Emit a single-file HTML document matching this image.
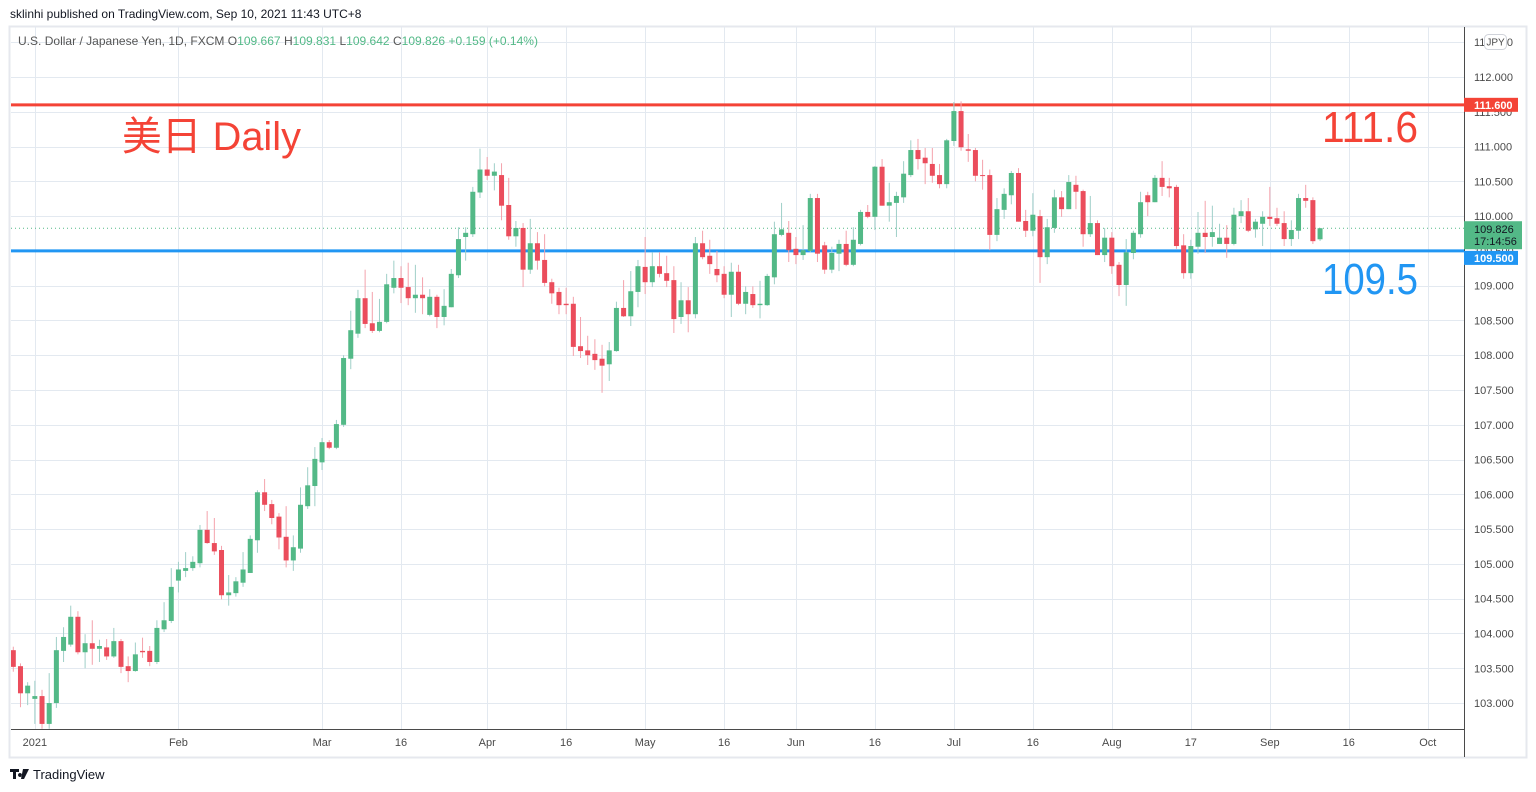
<!DOCTYPE html>
<html><head><meta charset="utf-8">
<style>
html,body{margin:0;padding:0;background:#fff;}
svg{display:block;font-family:"Liberation Sans","Noto Sans CJK SC",sans-serif;}
</style></head>
<body>
<svg id="chart" width="1536" height="792" viewBox="0 0 1536 792" xmlns="http://www.w3.org/2000/svg">
  <text x="10" y="18" font-size="12" fill="#131722">sklinhi published on TradingView.com, Sep 10, 2021 11:43 UTC+8</text>
  <rect x="9.5" y="26.5" width="1517" height="731" fill="#fff" stroke="#e6e8ee" stroke-width="2"/>
  <g id="grid"></g>
  <g id="hlines"></g>
  <g id="candles" clip-path="url(#plotclip)"></g>
  <defs><clipPath id="plotclip"><rect x="11" y="27" width="1452" height="702"/></clipPath></defs>
  <line x1="11" y1="729.5" x2="1464" y2="729.5" stroke="#4a4a4a" stroke-width="1"/>
  <line x1="1464.5" y1="27" x2="1464.5" y2="757" stroke="#4a4a4a" stroke-width="1"/>
  <g id="yaxis"></g>
  <g id="xaxis"></g>
  <g font-size="12">
    <text x="18" y="45" fill="#555" textLength="520" lengthAdjust="spacingAndGlyphs">U.S. Dollar / Japanese Yen, 1D, FXCM  <tspan fill="#555">O</tspan><tspan fill="#53b987">109.667</tspan>  <tspan fill="#555">H</tspan><tspan fill="#53b987">109.831</tspan>  <tspan fill="#555">L</tspan><tspan fill="#53b987">109.642</tspan>  <tspan fill="#555">C</tspan><tspan fill="#53b987">109.826  +0.159 (+0.14%)</tspan></text>
  </g>
  <text x="122" y="150" font-size="40" fill="#f44336" textLength="179" lengthAdjust="spacingAndGlyphs">美日 Daily</text>
  <text x="1322" y="142" font-size="44" fill="#f44336" textLength="96" lengthAdjust="spacingAndGlyphs">111.6</text>
  <text x="1322" y="294" font-size="44" fill="#2196f3" textLength="96" lengthAdjust="spacingAndGlyphs">109.5</text>
  <g>
    <path d="M10 769h9v3h-3v7h-3v-7h-3z M20 773a2 2 0 1 0 0.01 0z M23 769h6l-5 10h-3z" fill="#131722"/>
    <text x="33" y="779" font-size="13" fill="#131722">TradingView</text>
  </g>
</svg>
<script>
// ---- data ----
const opens=[103.76,103.53,103.14,103.06,103.10,102.70,103.00,103.75,103.84,104.24,
103.73,103.86,103.78,103.80,103.67,103.89,103.53,103.46,103.75,103.75,
103.59,104.06,104.18,104.76,104.90,104.94,105.01,105.49,105.30,105.20,
104.55,104.58,104.73,104.87,105.34,106.03,105.86,105.68,105.39,105.05,
105.22,105.83,106.12,106.46,106.75,106.67,107.00,107.95,108.31,108.82,
108.46,108.35,108.48,108.97,109.11,108.98,108.82,108.87,108.58,108.84,
108.55,108.69,109.15,109.70,109.74,110.34,110.67,110.58,110.59,110.16,
109.71,109.83,109.23,109.61,109.37,109.05,108.91,108.74,108.74,108.13,
108.07,108.02,107.95,107.87,108.06,108.68,108.56,108.91,109.27,109.05,
109.28,109.18,109.08,108.55,108.79,108.59,109.61,109.43,109.24,109.17,
108.87,109.20,108.74,108.88,108.72,108.72,109.12,109.73,109.76,109.53,
109.44,109.50,110.26,109.58,109.23,109.46,109.60,109.30,109.60,110.06,
109.99,110.71,110.15,110.19,110.27,110.59,110.95,110.84,110.75,110.59,
110.46,111.08,111.51,110.96,110.95,110.59,110.59,109.73,110.09,110.30,
110.62,109.93,109.79,110.00,109.41,109.83,110.27,110.10,110.45,110.36,
109.74,109.90,109.44,109.69,109.30,109.01,109.47,109.74,110.30,110.20,
110.55,110.43,110.42,109.58,109.18,109.56,109.76,109.70,109.60,109.69,
109.60,110.00,110.07,109.81,109.89,109.99,109.97,109.90,109.67,109.79,
110.26,110.23,109.667];
const highs=[103.81,103.57,103.30,103.32,103.19,103.43,103.95,104.09,104.40,104.32,
103.99,104.19,103.91,103.92,104.08,103.92,103.67,103.87,103.94,103.82,
104.19,104.45,104.94,105.03,105.17,105.11,105.56,105.76,105.66,105.26,
104.84,104.81,105.17,105.41,106.06,106.22,105.92,105.73,105.83,105.41,
106.10,106.39,106.68,106.81,106.78,107.07,108.00,108.64,108.94,109.23,
108.91,108.81,109.17,109.36,109.28,109.33,109.30,109.12,108.95,108.87,
108.95,109.24,109.84,109.84,110.42,110.97,110.85,110.76,110.76,110.55,
109.93,109.90,109.96,109.77,109.74,109.10,108.97,108.97,108.84,108.55,
108.28,108.23,108.15,108.19,108.77,109.08,109.21,109.37,109.70,109.48,
109.48,109.43,109.28,109.05,108.98,109.70,109.79,109.66,109.50,109.28,
109.33,109.30,108.99,108.99,109.07,109.17,109.92,110.19,109.93,109.70,
109.87,110.32,110.32,109.63,109.56,109.66,109.79,109.84,110.09,110.16,
110.72,110.82,110.48,110.35,110.79,111.09,111.11,110.98,110.98,110.75,
111.11,111.64,111.65,111.18,110.98,110.81,110.67,110.26,110.40,110.65,
110.69,110.09,110.33,110.09,109.96,110.38,110.36,110.59,110.58,110.38,
110.29,109.94,109.83,109.77,109.34,109.67,109.79,110.35,110.35,110.59,
110.79,110.55,110.45,109.74,109.66,110.06,110.22,110.15,109.89,109.87,
110.12,110.23,110.26,109.96,110.07,110.42,110.12,110.07,109.94,110.32,
110.45,110.27,109.831];
const lows=[103.45,102.94,102.97,102.70,102.63,102.63,102.93,103.59,103.81,103.70,
103.50,103.55,103.59,103.62,103.65,103.43,103.30,103.45,103.65,103.53,
103.56,104.02,104.15,104.59,104.81,104.90,104.95,105.29,105.13,104.49,
104.40,104.53,104.67,104.87,105.16,105.76,105.57,105.21,104.95,104.90,
105.16,105.79,105.83,106.35,106.65,106.65,106.97,107.80,108.25,108.39,
108.32,108.33,108.46,108.89,108.75,108.72,108.61,108.59,108.56,108.39,
108.43,108.69,109.11,109.36,109.70,110.26,110.52,110.37,109.94,109.66,
109.56,108.98,109.17,109.23,108.99,108.74,108.59,108.59,107.99,107.96,
107.86,107.79,107.46,107.63,108.05,108.55,108.42,108.69,108.88,108.98,
109.12,108.98,108.32,108.45,108.33,108.53,109.38,109.17,109.05,108.82,
108.55,108.72,108.59,108.68,108.53,108.71,109.02,109.71,109.34,109.31,
109.37,109.48,109.34,109.17,109.18,109.21,109.28,109.28,109.58,109.97,
109.80,110.15,109.92,109.70,110.19,110.56,110.67,110.46,110.48,110.40,
110.40,111.01,110.94,110.78,110.50,110.38,109.51,109.64,109.96,110.17,
109.92,109.70,109.71,109.04,109.31,109.76,109.99,110.10,110.10,109.56,
109.70,109.44,109.34,109.17,108.85,108.71,109.38,109.69,110.00,110.20,
110.29,110.27,109.53,109.10,109.10,109.46,109.47,109.56,109.60,109.40,
109.58,109.90,109.77,109.69,109.57,109.86,109.86,109.57,109.57,109.67,
110.12,109.60,109.642];
const closes=[103.52,103.14,103.25,103.10,102.70,103.00,103.76,103.95,104.24,103.73,
103.86,103.78,103.82,103.67,103.89,103.52,103.46,103.70,103.73,103.59,
104.08,104.19,104.67,104.92,104.94,105.03,105.49,105.30,105.18,104.55,
104.59,104.75,104.92,105.36,106.03,105.85,105.66,105.38,105.05,105.24,
105.85,106.13,106.51,106.75,106.67,107.01,107.96,108.36,108.82,108.45,
108.35,108.48,109.02,109.11,108.97,108.82,108.87,108.82,108.84,108.55,
108.71,109.17,109.67,109.76,110.35,110.67,110.58,110.64,110.15,109.71,
109.83,109.23,109.61,109.36,109.04,108.89,108.72,108.72,108.12,108.06,
108.00,107.93,107.85,108.07,108.68,108.56,108.92,109.28,109.05,109.28,
109.17,109.07,108.52,108.79,108.59,109.61,109.41,109.31,109.15,108.87,
109.20,108.74,108.91,108.72,108.74,109.14,109.74,109.81,109.51,109.44,
109.51,110.26,109.46,109.23,109.47,109.60,109.30,109.66,110.06,109.99,
110.71,110.15,110.20,110.29,110.61,110.95,110.82,110.76,110.58,110.46,
111.09,111.51,110.99,110.94,110.58,110.58,109.73,110.10,110.32,110.62,
109.92,109.79,110.02,109.41,109.84,110.27,110.10,110.49,110.35,109.74,
109.90,109.44,109.69,109.28,109.01,109.48,109.76,110.20,110.20,110.55,
110.42,110.40,109.57,109.18,109.57,109.76,109.70,109.77,109.69,109.60,
110.02,110.07,109.79,109.92,109.99,109.96,109.89,109.67,109.80,110.26,
110.22,109.64,109.826];
const xTickIdx=[3,23,43,54,66,77,88,99,109,120,131,142,153,164,175,186,197];
const xTickLabels=["2021","Feb","Mar","16","Apr","16","May","16","Jun","16","Jul","16","Aug","17","Sep","16","Oct"];
const yTicks=[103,103.5,104,104.5,105,105.5,106,106.5,107,107.5,108,108.5,109,109.5,110,110.5,111,111.5,112,112.5];
const resistance=111.6;
const support=109.5;
const lastPrice=109.826;

// ---- scales ----
function xScale(i){return 13.3+i*7.18;}
function yScale(p){return 77+(112-p)*69.56;}
const NS="http://www.w3.org/2000/svg";
function mk(tag,attrs,parent){const e=document.createElementNS(NS,tag);for(const k in attrs)e.setAttribute(k,attrs[k]);parent.appendChild(e);return e;}

const grid=document.getElementById('grid');
yTicks.forEach(v=>{
  const y=Math.round(yScale(v))+0.5;
  const l=mk('line',{x1:11,x2:1464,y1:y,y2:y,stroke:'#e3e9f0','stroke-width':1},grid);
  
  
});
xTickIdx.forEach(i=>{
  const x=Math.round(xScale(i))+0.5;
  const l=mk('line',{x1:x,x2:x,y1:27,y2:729,stroke:'#e3e9f0','stroke-width':1},grid);
  
  
});

const hl=document.getElementById('hlines');
const ly=yScale(lastPrice);
const dl=mk('line',{x1:11,x2:1464,y1:ly,y2:ly,stroke:'#53b987','stroke-width':1,'stroke-dasharray':'1 3'},hl);



const cg=document.getElementById('candles');
for(let i=0;i<opens.length;i++){
  const o=opens[i],h=highs[i],l=lows[i],c=closes[i];
  const up=c>=o;
  const x=xScale(i);
  const w=mk('line',{x1:x,x2:x,y1:yScale(h),y2:yScale(l),stroke:up?'#9fcfc8':'#f4a2ac','stroke-width':1},cg);
  
  
  const top=yScale(Math.max(o,c)),bot=yScale(Math.min(o,c));
  const b=mk('rect',{x:x-2.5,y:top,width:5,height:Math.max(1,bot-top),fill:up?'#53b987':'#eb4d5c'},cg);
  
  
}

const ry=yScale(resistance), sy=yScale(support);
const rl=mk('line',{x1:11,x2:1464,y1:ry,y2:ry,stroke:'#f44336','stroke-width':3},hl);


const sl=mk('line',{x1:11,x2:1464,y1:sy,y2:sy,stroke:'#2196f3','stroke-width':3},hl);



const ya=document.getElementById('yaxis');
yTicks.forEach(v=>{
  const t=mk('text',{x:1474,y:yScale(v)+4,'font-size':11,fill:'#4a4a4a'},ya);
  t.textContent=v.toFixed(3);
  
  
});
const jb=mk('rect',{x:1484.5,y:34.5,width:22,height:15,rx:4,fill:'#fff',stroke:'#d0d3da'},ya);


const jt=mk('text',{x:1495.5,y:45.5,'font-size':10,fill:'#4a4a4a','text-anchor':'middle'},ya);
jt.textContent='JPY';


function box(y,h,w,fill,name){const r=mk('rect',{x:1464,y:y,width:w,height:h,fill:fill},ya);return r;}
box(ry-7,14,54,'#f44336','resistance-price-box');
let t1=mk('text',{x:1474,y:ry+4,'font-size':11,fill:'#fff','font-weight':'bold'},ya);t1.textContent=resistance.toFixed(3);


box(ly-7,28,58,'#53b987','last-price-box');
let t2=mk('text',{x:1474,y:ly+5,'font-size':11,fill:'#131722'},ya);t2.textContent=lastPrice.toFixed(3);


let t3=mk('text',{x:1474,y:ly+17,'font-size':11,fill:'#131722'},ya);t3.textContent='17:14:56';


box(sy,14,54,'#2196f3','support-price-box');
let t4=mk('text',{x:1474,y:sy+11,'font-size':11,fill:'#fff','font-weight':'bold'},ya);t4.textContent=support.toFixed(3);



const xa=document.getElementById('xaxis');
xTickIdx.forEach((i,k)=>{
  const t=mk('text',{x:xScale(i),y:746,'font-size':11,fill:'#4a4a4a','text-anchor':'middle'},xa);
  t.textContent=xTickLabels[k];
  
  
});
</script>
</body></html>
